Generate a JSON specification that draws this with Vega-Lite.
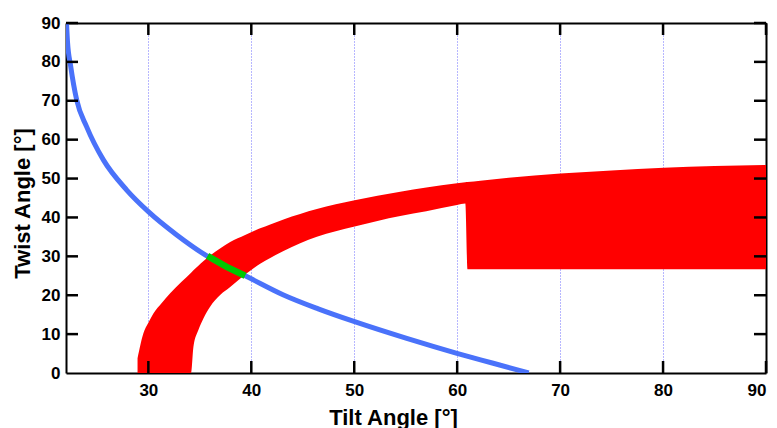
{
  "$schema": "https://vega.github.io/schema/vega-lite/v6.json",
  "width": 700,
  "height": 350,
  "autosize": {"type": "none"},
  "padding": {"left": 66, "top": 23, "right": 11, "bottom": 55},
  "background": "white",
  "config": {
    "view": {"stroke": null},
    "font": "Liberation Sans",
    "axis": {
      "domainColor": "black",
      "domainWidth": 2,
      "labelFont": "Liberation Sans",
      "labelFontSize": 17,
      "labelFontWeight": "bold",
      "labelColor": "black",
      "titleFont": "Liberation Sans",
      "titleFontSize": 22,
      "titleFontWeight": "bold",
      "titleColor": "black"
    }
  },
  "datasets": {
    "band": [
      {"x": 28.95, "hi": 3.8, "lo": 0},
      {"x": 29.52, "hi": 10.2, "lo": 0},
      {"x": 30.0, "hi": 12.9, "lo": 0},
      {"x": 30.49, "hi": 15.3, "lo": 0},
      {"x": 31.3, "hi": 18.0, "lo": 0},
      {"x": 32.12, "hi": 20.5, "lo": 0},
      {"x": 33.2, "hi": 23.4, "lo": 0},
      {"x": 34.15, "hi": 25.8, "lo": 0},
      {"x": 34.38, "hi": 26.4, "lo": 6.76},
      {"x": 34.86, "hi": 27.6, "lo": 11.06},
      {"x": 35.36, "hi": 28.8, "lo": 14.1},
      {"x": 36.0, "hi": 30.2, "lo": 17.05},
      {"x": 37.0, "hi": 32.1, "lo": 20.1},
      {"x": 37.95, "hi": 33.7, "lo": 22.1},
      {"x": 39.4, "hi": 35.5, "lo": 25.3},
      {"x": 40.86, "hi": 37.2, "lo": 28.1},
      {"x": 41.84, "hi": 38.2, "lo": 29.6},
      {"x": 43.13, "hi": 39.5, "lo": 31.4},
      {"x": 46.37, "hi": 42.2, "lo": 35.05},
      {"x": 50.04, "hi": 44.4, "lo": 37.7},
      {"x": 54.47, "hi": 46.6, "lo": 40.4},
      {"x": 57.0, "hi": 47.7, "lo": 41.6},
      {"x": 59.98, "hi": 48.8, "lo": 43.2},
      {"x": 60.79, "hi": 49.05, "lo": 43.6},
      {"x": 61.0, "hi": 49.1, "lo": 26.7},
      {"x": 62.25, "hi": 49.45, "lo": 26.7},
      {"x": 65.0, "hi": 50.2, "lo": 26.7},
      {"x": 70.03, "hi": 51.3, "lo": 26.7},
      {"x": 75.0, "hi": 52.1, "lo": 26.7},
      {"x": 80.07, "hi": 52.8, "lo": 26.7},
      {"x": 85.0, "hi": 53.2, "lo": 26.7},
      {"x": 90.0, "hi": 53.5, "lo": 26.7}
    ],
    "blue": [
      {"i": 0, "x": 22.05, "y": 90},
      {"i": 1, "x": 22.15, "y": 85},
      {"i": 2, "x": 22.45, "y": 79},
      {"i": 3, "x": 23.04, "y": 70.2},
      {"i": 4, "x": 24.01, "y": 63.3},
      {"i": 5, "x": 25.63, "y": 54.8},
      {"i": 6, "x": 27.9, "y": 47.05},
      {"i": 7, "x": 30.0, "y": 41.5},
      {"i": 8, "x": 32.76, "y": 35.5},
      {"i": 9, "x": 35.8, "y": 29.9},
      {"i": 10, "x": 39.9, "y": 24.35},
      {"i": 11, "x": 43.13, "y": 20.06},
      {"i": 12, "x": 46.5, "y": 16.5},
      {"i": 13, "x": 50.04, "y": 13.2},
      {"i": 14, "x": 55.1, "y": 8.9},
      {"i": 15, "x": 59.98, "y": 5.06},
      {"i": 16, "x": 63.5, "y": 2.5},
      {"i": 17, "x": 66.95, "y": 0}
    ],
    "green": [
      {"i": 0, "x": 35.75, "y": 30.1},
      {"i": 1, "x": 37.6, "y": 27.3},
      {"i": 2, "x": 39.4, "y": 25.0}
    ],
    "xticks": [{"v": 30}, {"v": 40}, {"v": 50}, {"v": 60}, {"v": 70}, {"v": 80}, {"v": 90}],
    "yticks": [{"v": 10}, {"v": 20}, {"v": 30}, {"v": 40}, {"v": 50}, {"v": 60}, {"v": 70}, {"v": 80}, {"v": 90}]
  },
  "layer": [
    {
      "data": {"name": "band"},
      "mark": {"type": "area", "color": "#ff0000", "clip": true, "interpolate": "monotone"},
      "encoding": {
        "x": {
          "field": "x", "type": "quantitative",
          "scale": {"domain": [22, 90], "nice": false, "zero": false},
          "axis": {
            "orient": "bottom",
            "values": [30, 40, 50, 60, 70, 80, 90],
            "ticks": false,
            "labelPadding": 9,
            "grid": true,
            "gridColor": "#6f6fff",
            "gridWidth": 1,
            "gridDash": [1, 2],
            "title": "Tilt Angle [°]",
            "titleX": 327,
            "titleY": 51,
            "titleBaseline": "alphabetic",
            "titleAlign": "center"
          }
        },
        "y": {
          "field": "hi", "type": "quantitative",
          "scale": {"domain": [0, 90], "nice": false, "zero": false},
          "axis": {
            "orient": "left",
            "values": [0, 10, 20, 30, 40, 50, 60, 70, 80, 90],
            "ticks": false,
            "labelPadding": 6,
            "grid": false,
            "title": "Twist Angle [°]",
            "titleAngle": -90,
            "titleX": -37,
            "titleY": 180,
            "titleBaseline": "alphabetic",
            "titleAlign": "center"
          }
        },
        "y2": {"field": "lo"}
      }
    },
    {
      "data": {"name": "blue"},
      "mark": {"type": "line", "color": "#4a72fa", "strokeWidth": 5, "clip": true, "interpolate": "monotone"},
      "encoding": {
        "x": {
          "field": "x", "type": "quantitative",
          "axis": {"orient": "top", "ticks": false, "labels": false, "grid": false, "title": null}
        },
        "y": {
          "field": "y", "type": "quantitative",
          "axis": {"orient": "right", "ticks": false, "labels": false, "grid": false, "title": null}
        },
        "order": {"field": "i"}
      }
    },
    {
      "data": {"name": "green"},
      "mark": {"type": "line", "color": "#00c800", "strokeWidth": 6.5, "strokeCap": "butt", "clip": true},
      "encoding": {
        "x": {"field": "x", "type": "quantitative", "axis": null},
        "y": {"field": "y", "type": "quantitative", "axis": null},
        "order": {"field": "i"}
      }
    },
    {
      "data": {"name": "xticks"},
      "mark": {"type": "point", "shape": "M0,0L0,-2", "size": 144, "filled": false, "stroke": "black", "strokeWidth": 2.5, "opacity": 1},
      "encoding": {
        "x": {"field": "v", "type": "quantitative", "axis": null},
        "y": {"datum": 0, "type": "quantitative", "axis": null}
      }
    },
    {
      "data": {"name": "xticks"},
      "mark": {"type": "point", "shape": "M0,0L0,2", "size": 144, "filled": false, "stroke": "black", "strokeWidth": 2.5, "opacity": 1},
      "encoding": {
        "x": {"field": "v", "type": "quantitative", "axis": null},
        "y": {"datum": 90, "type": "quantitative", "axis": null}
      }
    },
    {
      "data": {"name": "yticks"},
      "mark": {"type": "point", "shape": "M0,0L2,0", "size": 144, "filled": false, "stroke": "black", "strokeWidth": 2.5, "opacity": 1},
      "encoding": {
        "y": {"field": "v", "type": "quantitative", "axis": null},
        "x": {"datum": 22, "type": "quantitative", "axis": null}
      }
    },
    {
      "data": {"name": "yticks"},
      "mark": {"type": "point", "shape": "M0,0L-2,0", "size": 144, "filled": false, "stroke": "black", "strokeWidth": 2.5, "opacity": 1},
      "encoding": {
        "y": {"field": "v", "type": "quantitative", "axis": null},
        "x": {"datum": 90, "type": "quantitative", "axis": null}
      }
    }
  ],
  "resolve": {"axis": {"x": "independent", "y": "independent"}}
}
